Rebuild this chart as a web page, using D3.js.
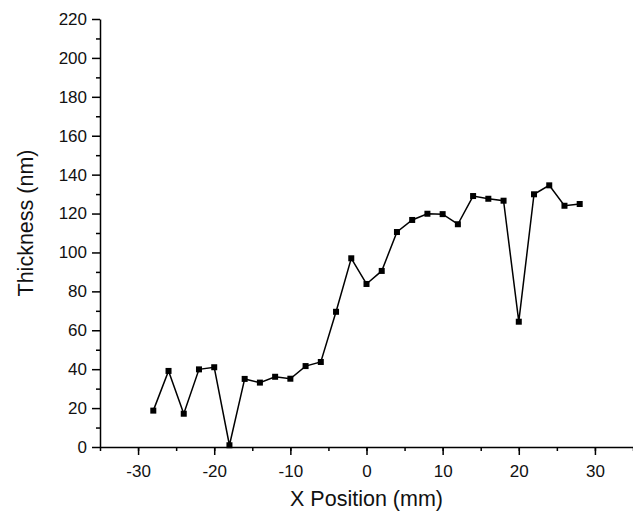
<!DOCTYPE html>
<html>
<head>
<meta charset="utf-8">
<script src="https://cdn.jsdelivr.net/npm/d3@7"></script>
<style>
  body { margin: 0; background: #fff; }
  .axis text { font-family: Arial, "Liberation Sans", sans-serif; font-size: 17px; fill: #111; }
  .title { font-family: Arial, "Liberation Sans", sans-serif; font-size: 21.5px; fill: #111; }
</style>
</head>
<body>
<div id="chart"></div>
<script>
// data
const xPos = [-28, -26, -24, -22, -20, -18, -16, -14, -12, -10, -8, -6, -4, -2, 0,
              2, 4, 6, 8, 10, 12, 14, 16, 18, 20, 22, 24, 26, 28];
const thickness = [18.7, 39.1, 17.1, 39.9, 41.0, 0.9, 35.0, 33.1, 36.1, 35.1, 41.6, 43.7, 69.5, 97.0, 83.8,
                   90.5, 110.5, 116.7, 119.9, 119.7, 114.5, 129.0, 127.6, 126.6, 64.4, 129.9, 134.5, 124.0, 124.9];
const xTicks = [-30, -20, -10, 0, 10, 20, 30];
const yTicks = [0, 20, 40, 60, 80, 100, 120, 140, 160, 180, 200, 220];

const data = xPos.map((x, i) => ({ x: x, y: thickness[i] }));

// set the dimensions and margins of the graph
const margin = {top: 19, right: 0, bottom: 69, left: 100},
    width = 633 - margin.left - margin.right,
    height = 516 - margin.top - margin.bottom;

const svg = d3.select("#chart")
  .append("svg")
    .attr("width", width + margin.left + margin.right)
    .attr("height", height + margin.top + margin.bottom)
  .append("g")
    .attr("transform", `translate(${margin.left},${margin.top})`);

// plain hyphen for negatives, like the original
const fmt = d => String(d);

// X axis
const x = d3.scaleLinear()
  .domain([-35, 35])
  .range([0, width]);

// minor ticks first
svg.append("g")
  .attr("class", "axis")
  .attr("transform", `translate(0, ${height})`)
  .call(d3.axisBottom(x).tickValues(d3.range(-35, 36, 5)).tickSize(4).tickFormat(""))
  .call(g => g.select(".domain").remove())
  .selectAll("line").attr("stroke-width", 1.5);

svg.append("g")
  .attr("class", "axis")
  .attr("transform", `translate(0, ${height})`)
  .call(d3.axisBottom(x).tickValues(xTicks).tickSize(8).tickPadding(10).tickSizeOuter(0).tickFormat(fmt))
  .call(g => g.select(".domain").attr("stroke-width", 1.5))
  .call(g => g.selectAll("line").attr("stroke-width", 1.5));

// Y axis
const y = d3.scaleLinear()
  .domain([0, 220])
  .range([height, 0]);

svg.append("g")
  .attr("class", "axis")
  .call(d3.axisLeft(y).tickValues(d3.range(10, 220, 20)).tickSize(4).tickFormat(""))
  .call(g => g.select(".domain").remove())
  .selectAll("line").attr("stroke-width", 1.5);

svg.append("g")
  .attr("class", "axis")
  .call(d3.axisLeft(y).tickValues(yTicks).tickSize(8).tickPadding(5).tickSizeOuter(0).tickFormat(fmt))
  .call(g => g.select(".domain").attr("stroke-width", 1.5))
  .call(g => g.selectAll("line").attr("stroke-width", 1.5));

// axis titles
svg.append("text")
  .attr("class", "title")
  .attr("text-anchor", "middle")
  .attr("x", x(0))
  .attr("y", height + 59)
  .text("X Position (mm)");

svg.append("text")
  .attr("class", "title")
  .attr("text-anchor", "middle")
  .attr("transform", `translate(${-67}, ${height / 2 - 10}) rotate(-90)`)
  .text("Thickness (nm)");

// the line
svg.append("path")
  .datum(data)
  .attr("fill", "none")
  .attr("stroke", "#000")
  .attr("stroke-width", 1.5)
  .attr("d", d3.line()
    .x(d => x(d.x))
    .y(d => y(d.y)));

// square markers
svg.selectAll("rect.pt")
  .data(data)
  .join("rect")
    .attr("class", "pt")
    .attr("x", d => x(d.x) - 3)
    .attr("y", d => y(d.y) - 3)
    .attr("width", 6)
    .attr("height", 6)
    .attr("fill", "#000");
</script>
</body>
</html>
